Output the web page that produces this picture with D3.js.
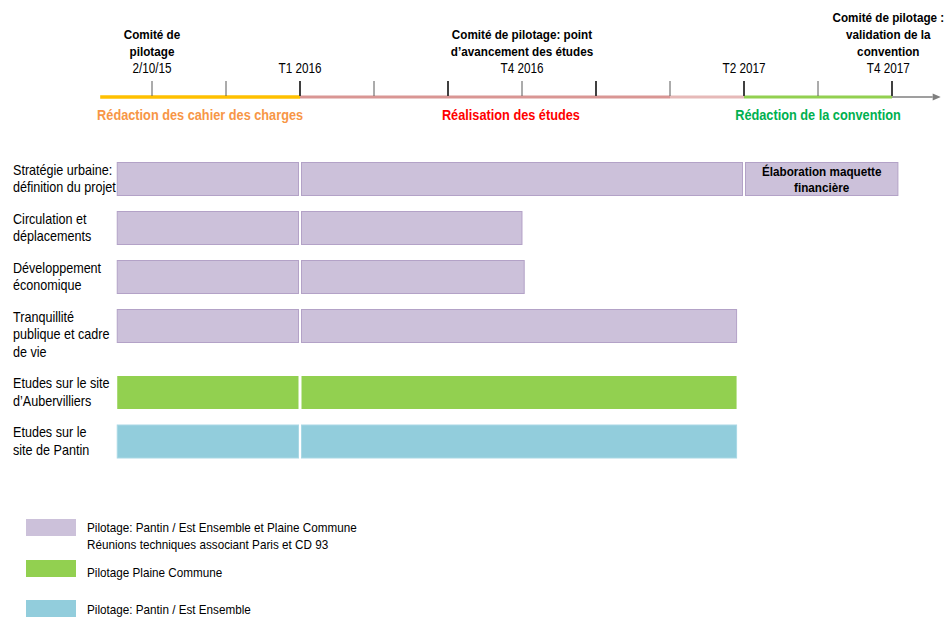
<!DOCTYPE html>
<html>
<head>
<meta charset="utf-8">
<script src="https://cdn.jsdelivr.net/npm/d3@7"></script>
<style>
  body { margin: 0; background: #fff; }
  svg text { font-family: "Liberation Sans", Arial, sans-serif; }
</style>
</head>
<body>
<div id="vis"></div>
<script>
// timeline steps (ticks are evenly spaced steps, not real dates)
var tickSteps = [0, 1, 2, 3, 4, 5, 6, 7, 8, 9, 10];
var thickSteps = [2, 4, 6, 8, 10];

// milestones above the axis
var milestones = [
  { step: 0, date: "2/10/15", title: ["Comité de", "pilotage"] },
  { step: 2, date: "T1 2016", title: [] },
  { step: 5, date: "T4 2016", title: ["Comité de pilotage: point", "d\u2019avancement des études"] },
  { step: 8, date: "T2 2017", title: [] },
  { step: 9.95, date: "T4 2017", title: ["Comité de pilotage :", "validation de la", "convention"] }
];

// phases drawn on the axis
var phases = [
  { from: -0.7, to: 2, color: "#FFC000", width: 3.5 },
  { from: 2, to: 7, color: "#D99694", width: 3 },
  { from: 7, to: 8, color: "#E6B9B8", width: 3 },
  { from: 8, to: 10, color: "#92D050", width: 3 }
];
var phaseLabels = [
  { at: 0.65, text: "Rédaction des cahier des charges", color: "#F79646" },
  { at: 4.85, text: "Réalisation des études", color: "#FF0000" },
  { at: 9, text: "Rédaction de la convention", color: "#00B050" }
];

// task rows
var rows = [
  ["Stratégie urbaine:", "définition du projet"],
  ["Circulation et", "déplacements"],
  ["Développement", "économique"],
  ["Tranquillité", "publique et cadre", "de vie"],
  ["Etudes sur le site", "d\u2019Aubervilliers"],
  ["Etudes sur le", "site de Pantin"]
];

// bars: row index, start step, end step, kind, label
var bars = [
  { row: 0, start: -0.49, end: 2, kind: "pilot" },
  { row: 0, start: 2, end: 8, kind: "pilot" },
  { row: 0, start: 8, end: 10.1, kind: "pilot", label: ["Élaboration maquette", "financière"] },
  { row: 1, start: -0.49, end: 2, kind: "pilot" },
  { row: 1, start: 2, end: 5.02, kind: "pilot" },
  { row: 2, start: -0.49, end: 2, kind: "pilot" },
  { row: 2, start: 2, end: 5.05, kind: "pilot" },
  { row: 3, start: -0.49, end: 2, kind: "pilot" },
  { row: 3, start: 2, end: 7.92, kind: "pilot" },
  { row: 4, start: -0.49, end: 2, kind: "plaine" },
  { row: 4, start: 2, end: 7.92, kind: "plaine" },
  { row: 5, start: -0.49, end: 2, kind: "pantin" },
  { row: 5, start: 2, end: 7.92, kind: "pantin" }
];

var legendItems = [
  { kind: "pilot", text: ["Pilotage:  Pantin / Est Ensemble et Plaine Commune", "Réunions techniques associant Paris et CD 93"] },
  { kind: "plaine", text: ["Pilotage Plaine Commune"] },
  { kind: "pantin", text: ["Pilotage: Pantin / Est Ensemble"] }
];

var fills = { pilot: "#CCC1DA", plaine: "#92D050", pantin: "#92CDDC" };
var strokes = { pilot: "#B3A2C7", plaine: "none", pantin: "#A9D8E5" };

var width = 951, height = 618;
var narrow = 0.9; // the original uses a condensed face, squeeze the glyphs a bit

var svg = d3.select("#vis").append("svg")
  .attr("width", width)
  .attr("height", height);

var x = d3.scaleLinear().domain([0, 10]).range([152, 892]);
var axisY = 97;

// put a text at (px, py) and squeeze it horizontally
function place(sel, px, py, k){
  k = k || narrow;
  sel.attr("transform", function(d, i){
    return "translate(" + px(d, i) + "," + py(d, i) + ") scale(" + k + ",1)";
  });
}

// ---- timeline ----
var tl = svg.append("g");

tl.append("line")
  .attr("x1", x(10)).attr("x2", x(10.55))
  .attr("y1", axisY).attr("y2", axisY)
  .attr("stroke", "#7F7F7F").attr("stroke-width", 1.5);
tl.append("path")
  .attr("d", d3.line()([[x(10.55), axisY - 3.5], [x(10.55) + 8, axisY], [x(10.55), axisY + 3.5]]) + "Z")
  .attr("fill", "#7F7F7F");

tl.selectAll(".phase").data(phases).enter()
  .append("line")
  .attr("class", "phase")
  .attr("x1", function(d){ return x(d.from); })
  .attr("x2", function(d){ return x(d.to); })
  .attr("y1", axisY).attr("y2", axisY)
  .attr("stroke", function(d){ return d.color; })
  .attr("stroke-width", function(d){ return d.width; });

tl.selectAll(".tick").data(tickSteps).enter()
  .append("line")
  .attr("class", "tick")
  .attr("x1", function(d){ return x(d); })
  .attr("x2", function(d){ return x(d); })
  .attr("y1", axisY - 16).attr("y2", axisY - 1)
  .attr("stroke", function(d){ return thickSteps.indexOf(d) >= 0 ? "#404040" : "#595959"; })
  .attr("stroke-width", function(d){ return thickSteps.indexOf(d) >= 0 ? 2 : 1; });

var ms = tl.selectAll(".milestone").data(milestones).enter()
  .append("g")
  .attr("class", "milestone")
  .attr("transform", function(d){ return "translate(" + x(d.step) + ",0)"; });

ms.append("text")
  .call(place, function(){ return 0; }, function(){ return 73; }, 0.84)
  .attr("text-anchor", "middle")
  .attr("font-size", 14)
  .attr("fill", "#000")
  .text(function(d){ return d.date; });

ms.each(function(d){
  var n = d.title.length;
  d3.select(this).selectAll(".mt").data(d.title).enter()
    .append("text")
    .attr("class", "mt")
    .call(place, function(){ return 0; }, function(t, i){ return 73 - 17 * (n - i); })
    .attr("text-anchor", "middle")
    .attr("font-size", 13)
    .attr("font-weight", "bold")
    .attr("fill", "#000")
    .text(function(t){ return t; });
});

tl.selectAll(".plabel").data(phaseLabels).enter()
  .append("text")
  .attr("class", "plabel")
  .call(place, function(d){ return x(d.at); }, function(){ return 120; }, 0.85)
  .attr("text-anchor", "middle")
  .attr("font-size", 15)
  .attr("font-weight", "bold")
  .attr("fill", function(d){ return d.color; })
  .text(function(d){ return d.text; });

// ---- task rows ----
var lineH = 17.5, barH = 33, rowGap = 14;
var rowTop = [];
var yy = 162;
rows.forEach(function(r){
  rowTop.push(yy);
  yy += Math.max(barH + 2, r.length * lineH) + rowGap;
});

var gap = 1.5;
svg.selectAll(".bar").data(bars).enter()
  .append("rect")
  .attr("class", "bar")
  .attr("x", function(d){ return x(d.start) + gap; })
  .attr("y", function(d){ return rowTop[d.row] + 0.5; })
  .attr("width", function(d){ return x(d.end) - x(d.start) - 2 * gap; })
  .attr("height", barH)
  .attr("fill", function(d){ return fills[d.kind]; })
  .attr("stroke", function(d){ return strokes[d.kind]; })
  .attr("stroke-width", 1);

var rowG = svg.selectAll(".row").data(rows).enter()
  .append("g")
  .attr("class", "row")
  .attr("transform", function(d, i){ return "translate(13," + rowTop[i] + ")"; });

rowG.selectAll("text").data(function(d){ return d; }).enter()
  .append("text")
  .call(place, function(){ return 0; }, function(t, i){ return 12.5 + i * lineH; })
  .attr("font-size", 14)
  .attr("fill", "#000")
  .text(function(t){ return t; });

bars.filter(function(d){ return d.label; }).forEach(function(d){
  svg.append("g")
    .selectAll("text").data(d.label).enter()
    .append("text")
    .call(place, function(){ return (x(d.start) + x(d.end)) / 2; },
                 function(t, i){ return rowTop[d.row] + 14 + i * 16; })
    .attr("text-anchor", "middle")
    .attr("font-size", 13)
    .attr("font-weight", "bold")
    .attr("fill", "#000")
    .text(function(t){ return t; });
});

// ---- legend ----
var legTop = [519, 560, 600];
var legTextY = [13, 17, 14];
var leg = svg.selectAll(".leg").data(legendItems).enter()
  .append("g")
  .attr("class", "leg")
  .attr("transform", function(d, i){ return "translate(26," + legTop[i] + ")"; });

leg.append("rect")
  .attr("width", 50).attr("height", 17)
  .attr("fill", function(d){ return fills[d.kind]; });

leg.each(function(d, k){
  d3.select(this).selectAll("text").data(d.text).enter()
    .append("text")
    .call(place, function(){ return 61; }, function(t, i){ return legTextY[k] + i * 17; })
    .attr("font-size", 13)
    .attr("fill", "#000")
    .text(function(t){ return t; });
});
</script>
</body>
</html>
